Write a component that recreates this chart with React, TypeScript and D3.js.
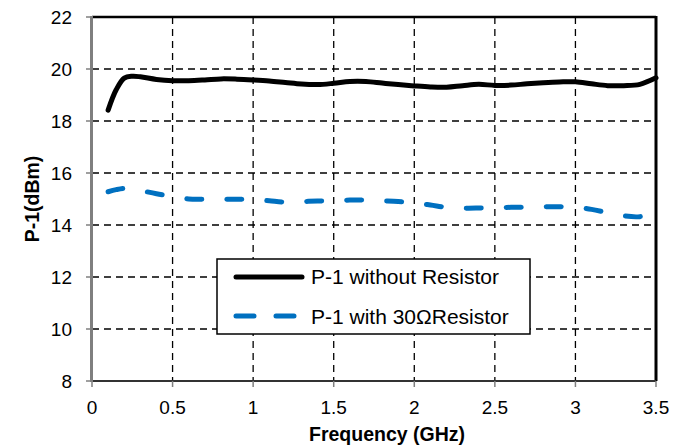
import React from "react";
import * as d3 from "d3";

const freqs = [0.1, 0.15, 0.2, 0.25, 0.3, 0.4, 0.5, 0.6, 0.7, 0.8, 0.9, 1.0, 1.1, 1.2, 1.3, 1.4, 1.5, 1.6, 1.7, 1.8, 1.9, 2.0, 2.1, 2.2, 2.3, 2.4, 2.5, 2.6, 2.7, 2.8, 2.9, 3.0, 3.1, 3.2, 3.3, 3.4, 3.5];
const withoutResistor = [18.42, 19.2, 19.65, 19.72, 19.7, 19.6, 19.55, 19.55, 19.58, 19.62, 19.61, 19.58, 19.54, 19.48, 19.42, 19.4, 19.45, 19.52, 19.52, 19.46, 19.4, 19.35, 19.31, 19.3, 19.36, 19.41, 19.37, 19.38, 19.43, 19.47, 19.5, 19.51, 19.43, 19.36, 19.36, 19.41, 19.66];
const withResistor = [15.28, 15.36, 15.41, 15.39, 15.33, 15.2, 15.1, 15.0, 14.99, 14.99, 14.99, 14.98, 14.93, 14.88, 14.9, 14.92, 14.93, 14.96, 14.96, 14.93, 14.9, 14.85, 14.77, 14.68, 14.65, 14.65, 14.66, 14.68, 14.68, 14.7, 14.7, 14.68, 14.6, 14.47, 14.35, 14.32, 14.5];
const xTicks = [0, 0.5, 1, 1.5, 2, 2.5, 3, 3.5];
const yTicks = [8, 10, 12, 14, 16, 18, 20, 22];
const seriesNames = ["P-1 without Resistor", "P-1 with 30ΩResistor"];

const W = 686, H = 448;
const L = 92, R = 656, T = 17, B = 381;
const font = "'Liberation Sans', Arial, sans-serif";

export default function App() {
  const x = d3.scaleLinear().domain([0, 3.5]).range([L, R]);
  const y = d3.scaleLinear().domain([8, 22]).range([B, T]);
  const line = d3
    .line<number>()
    .x((_, i) => x(freqs[i]))
    .y((d) => y(d))
    .curve(d3.curveCatmullRom.alpha(0.5));

  return (
    <svg width={W} height={H} style={{ position: "absolute", left: 0, top: 0, background: "#fff" }} fontFamily={font}>
      <rect x={0} y={0} width={W} height={H} fill="#fff" />
      {/* grid */}
      {yTicks.filter((t) => t > 8 && t < 22).map((t) => (
        <line key={"gy" + t} x1={L} x2={R} y1={y(t)} y2={y(t)} stroke="#000" strokeWidth={1.3} strokeDasharray="7 5" />
      ))}
      {xTicks.filter((t) => t > 0 && t < 3.5).map((t) => (
        <line key={"gx" + t} x1={x(t)} x2={x(t)} y1={T} y2={B} stroke="#000" strokeWidth={1.3} strokeDasharray="7 5" />
      ))}
      {/* border */}
      <line x1={L} x2={R} y1={T} y2={T} stroke="#000" strokeWidth={2.5} />
      <line x1={R} x2={R} y1={T - 1} y2={B} stroke="#000" strokeWidth={3} />
      {/* axes */}
      <line x1={L} x2={R} y1={B} y2={B} stroke="#333" strokeWidth={2} />
      <line x1={L - 0.5} x2={L - 0.5} y1={T - 1} y2={B + 1} stroke="#7f7f7f" strokeWidth={3} />
      {yTicks.map((t) => (
        <line key={"ty" + t} x1={L - 6} x2={L} y1={y(t)} y2={y(t)} stroke="#7f7f7f" strokeWidth={1.5} />
      ))}
      {xTicks.map((t) => (
        <line key={"tx" + t} x1={x(t)} x2={x(t)} y1={B} y2={B + 6} stroke="#7f7f7f" strokeWidth={1.5} />
      ))}
      {yTicks.map((t) => (
        <text key={"ly" + t} x={72} y={y(t) + 7} fontSize={19} textAnchor="end" fill="#000">
          {t}
        </text>
      ))}
      {xTicks.map((t) => (
        <text key={"lx" + t} x={x(t)} y={414} fontSize={19} textAnchor="middle" fill="#000">
          {t}
        </text>
      ))}
      <text x={(L + R) / 2 + 13} y={441} fontSize={19.5} fontWeight="bold" textAnchor="middle">
        Frequency (GHz)
      </text>
      <text transform={`translate(39, ${(T + B) / 2}) rotate(-90)`} fontSize={19.5} fontWeight="bold" textAnchor="middle">
        P-1(dBm)
      </text>
      {/* series */}
      <path d={line(withoutResistor) || ""} fill="none" stroke="#000" strokeWidth={5} strokeLinecap="round" />
      <path d={line(withResistor) || ""} fill="none" stroke="#0070c0" strokeWidth={5} strokeLinecap="round" strokeDasharray="15 25" />
      {/* legend */}
      <rect x={217} y={259} width={313} height={75} fill="#fff" stroke="#000" strokeWidth={1.5} />
      <line x1={236} x2={302} y1={277} y2={277} stroke="#000" strokeWidth={5} strokeLinecap="round" />
      <text x={311} y={284} fontSize={21}>{seriesNames[0]}</text>
      <line x1={236} x2={302} y1={316} y2={316} stroke="#0070c0" strokeWidth={5} strokeLinecap="round" strokeDasharray="18 22" />
      <text x={311} y={324} fontSize={21}>{seriesNames[1]}</text>
    </svg>
  );
}
